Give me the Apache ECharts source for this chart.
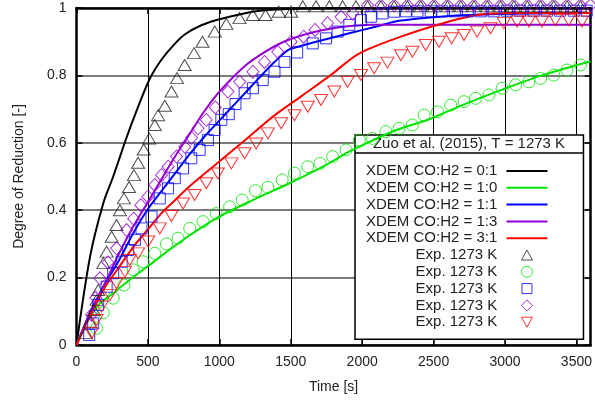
<!DOCTYPE html>
<html>
<head>
<meta charset="utf-8">
<script src="https://cdn.jsdelivr.net/npm/echarts@6/dist/echarts.min.js"></script>
<style>
  html, body { margin: 0; padding: 0; background: #fff; }
  #chart { width: 595px; height: 400px; }
</style>
</head>
<body>
<div id="chart"></div>
<script>
// ---- model curves (XDEM), time [s] and degree of reduction [-] ----
const line01T = [0, 94, 187, 257, 350, 425, 513, 592, 680, 760, 870, 987, 1234, 1481, 2000, 3600];
const line01Y = [0, 0.26, 0.42, 0.5, 0.615, 0.7, 0.79, 0.845, 0.89, 0.922, 0.948, 0.965, 0.989, 0.997, 1.0, 1.0];

const line10T = [0, 50, 99, 164, 247, 327, 494, 740, 987, 1234, 1491, 1728, 1916, 2222, 2469, 2701, 2962, 3258, 3600];
const line10Y = [0, 0.05, 0.085, 0.124, 0.15, 0.178, 0.232, 0.31, 0.378, 0.43, 0.48, 0.53, 0.575, 0.635, 0.67, 0.712, 0.755, 0.8, 0.842];

const line11T = [0, 99, 197, 296, 395, 494, 592, 691, 790, 889, 987, 1086, 1185, 1284, 1382, 1481, 1561, 1650, 1910, 2100, 2259, 2567, 2962, 3600];
const line11Y = [0, 0.1, 0.18, 0.25, 0.33, 0.4, 0.455, 0.51, 0.565, 0.615, 0.66, 0.705, 0.75, 0.795, 0.838, 0.875, 0.886, 0.897, 0.925, 0.945, 0.962, 0.975, 0.982, 0.985];

const line13T = [0, 99, 197, 296, 395, 494, 592, 691, 790, 889, 987, 1086, 1185, 1284, 1382, 1481, 1630, 1830, 2070, 3600];
const line13Y = [0, 0.1, 0.18, 0.27, 0.35, 0.42, 0.49, 0.56, 0.625, 0.69, 0.745, 0.79, 0.83, 0.86, 0.885, 0.905, 0.925, 0.942, 0.95, 0.95];

const line31T = [0, 99, 197, 296, 395, 494, 592, 691, 790, 987, 1185, 1382, 1580, 1777, 1975, 2271, 2567, 2814, 3061, 3600];
const line31Y = [0, 0.09, 0.17, 0.23, 0.29, 0.34, 0.39, 0.43, 0.47, 0.54, 0.61, 0.68, 0.74, 0.8, 0.864, 0.915, 0.955, 0.98, 0.985, 0.985];

// ---- experiments (Zuo et al. 2015, 1273 K) ----
const exp01T = [66, 94, 122, 141, 152, 188, 211, 246, 280, 304, 332, 368, 402, 431, 471, 509, 548, 571, 618, 665, 704, 757, 823, 882, 968, 1049, 1141, 1234, 1323, 1416, 1503, 1584, 1677, 1770, 1863, 1956, 2038, 2131, 2224, 2317, 2410, 2503, 2597, 2690, 2783, 2876, 2969, 3062, 3156, 3249, 3341, 3435, 3528];
const exp01Y = [0.036, 0.069, 0.104, 0.134, 0.163, 0.243, 0.277, 0.321, 0.356, 0.4, 0.435, 0.469, 0.504, 0.541, 0.58, 0.613, 0.653, 0.682, 0.71, 0.752, 0.792, 0.831, 0.866, 0.9, 0.93, 0.953, 0.97, 0.979, 0.979, 0.989, 0.989, 1.005, 1.005, 1.005, 1.005, 1.005, 1.005, 1.005, 1.005, 1.005, 1.005, 1.005, 1.005, 1.005, 1.005, 1.005, 1.005, 1.005, 1.005, 1.005, 1.005, 1.005, 1.005];

const exp10T = [141, 188, 257, 332, 397, 466, 548, 630, 711, 793, 886, 978, 1072, 1160, 1253, 1340, 1440, 1526, 1619, 1705, 1793, 1887, 1980, 2073, 2166, 2259, 2352, 2434, 2527, 2620, 2713, 2794, 2887, 2980, 3074, 3167, 3249, 3341, 3434, 3528];
const exp10Y = [0.05, 0.096, 0.139, 0.178, 0.223, 0.247, 0.272, 0.3, 0.317, 0.346, 0.366, 0.39, 0.41, 0.43, 0.458, 0.468, 0.49, 0.51, 0.529, 0.539, 0.559, 0.579, 0.608, 0.613, 0.633, 0.643, 0.653, 0.682, 0.692, 0.712, 0.722, 0.732, 0.742, 0.762, 0.772, 0.781, 0.791, 0.801, 0.816, 0.831];

const exp11T = [89, 117, 152, 211, 257, 316, 362, 409, 455, 525, 583, 641, 688, 746, 804, 862, 920, 967, 1014, 1066, 1113, 1177, 1235, 1304, 1386, 1456, 1545, 1654, 1747, 1828, 1910, 1992, 2061, 2142, 2224, 2306, 2387, 2480, 2561, 2650, 2740, 2830, 2920, 3013, 3106, 3200, 3293, 3386, 3481, 3572];
const exp11Y = [0.03, 0.064, 0.119, 0.173, 0.213, 0.247, 0.282, 0.312, 0.346, 0.381, 0.435, 0.465, 0.495, 0.524, 0.554, 0.579, 0.608, 0.638, 0.668, 0.685, 0.715, 0.747, 0.762, 0.786, 0.811, 0.84, 0.868, 0.895, 0.91, 0.93, 0.95, 0.964, 0.974, 0.984, 0.989, 0.99, 0.99, 0.99, 0.99, 0.99, 0.99, 0.99, 0.99, 0.992, 0.992, 0.992, 0.992, 0.992, 0.992, 0.992];

const exp13T = [105, 135, 164, 220, 281, 351, 400, 450, 500, 548, 595, 641, 700, 758, 805, 851, 909, 972, 1060, 1142, 1235, 1316, 1409, 1503, 1590, 1670, 1758, 1852, 1933, 2038, 2131, 2224, 2317, 2410, 2503, 2597, 2690, 2783, 2876, 2969, 3062, 3156, 3249, 3341, 3435, 3528, 3598];
const exp13Y = [0.09, 0.14, 0.198, 0.245, 0.287, 0.341, 0.375, 0.415, 0.44, 0.475, 0.504, 0.529, 0.559, 0.588, 0.615, 0.643, 0.668, 0.705, 0.752, 0.781, 0.811, 0.84, 0.87, 0.9, 0.915, 0.935, 0.955, 0.974, 0.984, 1.008, 1.008, 1.008, 1.008, 1.008, 1.008, 1.008, 1.008, 1.008, 1.008, 1.008, 1.008, 1.008, 1.008, 1.008, 1.008, 1.008, 1.008];

const exp31T = [106, 141, 176, 234, 280, 339, 373, 431, 502, 583, 665, 746, 827, 909, 990, 1084, 1177, 1258, 1340, 1433, 1526, 1619, 1712, 1805, 1898, 1992, 2084, 2177, 2271, 2352, 2445, 2538, 2626, 2713, 2805, 2899, 2992, 3085, 3167, 3259, 3353, 3446, 3539];
const exp31Y = [0.035, 0.074, 0.114, 0.148, 0.183, 0.217, 0.252, 0.272, 0.307, 0.346, 0.383, 0.42, 0.445, 0.48, 0.509, 0.539, 0.569, 0.598, 0.628, 0.658, 0.682, 0.707, 0.727, 0.752, 0.781, 0.801, 0.821, 0.838, 0.86, 0.87, 0.89, 0.9, 0.91, 0.92, 0.93, 0.94, 0.955, 0.96, 0.96, 0.96, 0.964, 0.964, 0.96];

// ---- axis ticks ----
const xTickStep = 500;
const yTickStep = 0.2;

const FONT = "'Liberation Sans', Arial, sans-serif";
const TEXT = '#222';

const zip = (t, y) => t.map((v, i) => [v, y[i]]);

function model(name, t, y, color) {
  return {
    type: 'line', name, data: zip(t, y), symbol: 'none',
    smooth: 0.3,
    lineStyle: { color, width: 2 }, itemStyle: { color },
    z: 2, silent: true
  };
}
function experiment(name, t, y, color, symbol, size, rotate) {
  return {
    type: 'scatter', name, data: zip(t, y), symbol, symbolSize: size,
    symbolRotate: rotate || 0, clip: false,
    itemStyle: { color: 'rgba(0,0,0,0)', borderColor: color, borderWidth: 1 },
    z: 3, silent: true
  };
}

const C_BLACK = '#000000', C_GREEN = '#00e400', C_BLUE = '#0000ff', C_PURPLE = '#9400d3', C_RED = '#ff0000';
const C_TRI = '#222222';

const series = [
  model('XDEM CO:H2 = 0:1', line01T, line01Y, C_BLACK),
  model('XDEM CO:H2 = 1:0', line10T, line10Y, C_GREEN),
  model('XDEM CO:H2 = 1:1', line11T, line11Y, C_BLUE),
  model('XDEM CO:H2 = 1:3', line13T, line13Y, C_PURPLE),
  model('XDEM CO:H2 = 3:1', line31T, line31Y, C_RED),
  experiment('Exp. 1273 K #1', exp01T, exp01Y, C_TRI, 'triangle', [13, 11]),
  experiment('Exp. 1273 K #2', exp10T, exp10Y, C_GREEN, 'circle', 12),
  experiment('Exp. 1273 K #3', exp11T, exp11Y, C_BLUE, 'rect', 11),
  experiment('Exp. 1273 K #4', exp13T, exp13Y, C_PURPLE, 'diamond', [12, 13]),
  experiment('Exp. 1273 K #5', exp31T, exp31Y, C_RED, 'triangle', [13, 11], 180)
];

// Key icons in a 41x12 box: the two bare move-to points pin the box so shapes keep their size.
const BOX = 'path://M0,0 M41,12 ';
const keyIcons = [
  BOX + 'M0,6 L41,6',
  BOX + 'M0,6 L41,6',
  BOX + 'M0,6 L41,6',
  BOX + 'M0,6 L41,6',
  BOX + 'M0,6 L41,6',
  BOX + 'M15,11 L20.5,1 L26,11 Z',
  BOX + 'M15,6 A5.5,5.5 0 1,0 26,6 A5.5,5.5 0 1,0 15,6 Z',
  BOX + 'M15.5,1 L25.5,1 L25.5,11 L15.5,11 Z',
  BOX + 'M20.5,0.5 L26,6 L20.5,11.5 L15,6 Z',
  BOX + 'M15,1 L26,1 L20.5,11 Z'
];
const keyColors = [C_BLACK, C_GREEN, C_BLUE, C_PURPLE, C_RED, C_TRI, C_GREEN, C_BLUE, C_PURPLE, C_RED];

const frame = { show: true, onZero: false, lineStyle: { color: '#000', width: 2.5 } };
const ticks = { show: true, inside: true, length: 6, lineStyle: { color: '#000', width: 1.5 } };

const option = {
  animation: false,
  textStyle: { fontFamily: FONT },
  grid: { left: 76.5, right: 3.5, top: 8, bottom: 55, containLabel: false },
  xAxis: [
    {
      type: 'value', min: 0, max: 3600, interval: xTickStep, position: 'bottom',
      axisLine: frame, axisTick: ticks,
      axisLabel: { show: true, showMaxLabel: false, fontSize: 14, color: TEXT, margin: 10, fontFamily: FONT,
                   formatter: v => String(v) },
      splitLine: { show: true, lineStyle: { color: '#000', width: 1 } },
      name: 'Time [s]', nameLocation: 'middle', nameGap: 35,
      nameTextStyle: { fontSize: 14, color: TEXT, fontFamily: FONT }
    },
    {
      type: 'value', min: 0, max: 3600, interval: xTickStep, position: 'top',
      axisLine: frame, axisTick: ticks, axisLabel: { show: false }, splitLine: { show: false }
    }
  ],
  yAxis: [
    {
      type: 'value', min: 0, max: 1, interval: yTickStep, position: 'left',
      axisLine: frame, axisTick: ticks,
      axisLabel: { show: true, fontSize: 14, color: TEXT, margin: 10, fontFamily: FONT,
                   formatter: v => String(Math.round(v * 10) / 10) },
      splitLine: { show: true, lineStyle: { color: '#7a7a7a', width: 2 } },
      name: 'Degree of Reduction [-]', nameLocation: 'middle', nameGap: 50, nameRotate: 90,
      nameTextStyle: { fontSize: 14, color: TEXT, fontFamily: FONT }
    },
    {
      type: 'value', min: 0, max: 1, interval: yTickStep, position: 'right',
      axisLine: frame, axisTick: ticks, axisLabel: { show: false }, splitLine: { show: false }
    }
  ],
  legend: {
    orient: 'vertical', left: 355, top: 135, align: 'right',
    itemWidth: 41, itemHeight: 12, itemGap: 0,
    padding: [27.6, 35, 8.6, 11],
    backgroundColor: '#fff', borderColor: '#000', borderWidth: 1.5,
    selectedMode: false, z: 1,
    textStyle: { fontSize: 15, lineHeight: 16.8, color: TEXT, fontFamily: FONT },
    formatter: name => name.replace(/ #\d$/, '') + '\u00a0',
    data: series.map((s, i) => ({
      name: s.name,
      icon: keyIcons[i],
      itemStyle: { color: 'rgba(0,0,0,0)', borderColor: keyColors[i], borderWidth: i < 5 ? 2 : 1 }
    }))
  },
  graphic: [
    {
      type: 'text', z: 1, silent: true,
      x: 469, y: 144,
      style: { text: 'Zuo et al. (2015), T = 1273 K', fontSize: 15, fontFamily: FONT, fill: TEXT, align: 'center', verticalAlign: 'middle' }
    },
    {
      type: 'line', z: 1, silent: true,
      shape: { x1: 355, y1: 153, x2: 583, y2: 153 },
      style: { stroke: '#000', lineWidth: 1.5 }
    }
  ],
  series
};

const chart = echarts.init(document.getElementById('chart'), null, { renderer: 'canvas' });
chart.setOption(option);
</script>
</body>
</html>
